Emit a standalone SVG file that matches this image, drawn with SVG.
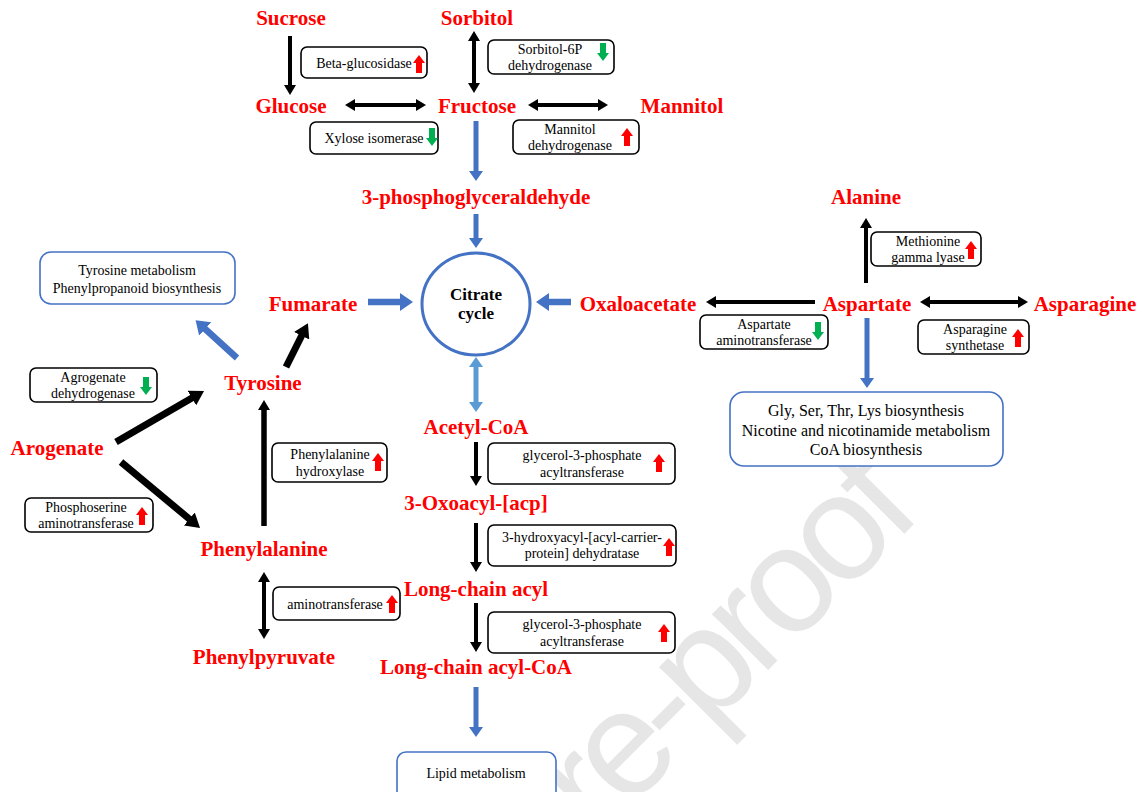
<svg xmlns="http://www.w3.org/2000/svg" width="1143" height="792" viewBox="0 0 1143 792">
<style>
.lbl{font-family:"Liberation Serif","Times New Roman",serif;font-weight:bold;font-size:21px;fill:#ff0000;text-anchor:middle}
.enz{font-family:"Liberation Serif","Times New Roman",serif;font-size:14px;fill:#000;text-anchor:middle}
.pw{font-family:"Liberation Serif","Times New Roman",serif;font-size:14px;fill:#000;text-anchor:middle}
.pw16{font-family:"Liberation Serif","Times New Roman",serif;font-size:16px;fill:#000;text-anchor:middle}
.cc{font-family:"Liberation Serif","Times New Roman",serif;font-weight:bold;font-size:17px;fill:#000;text-anchor:middle}
.ebox{fill:#fff;stroke:#000;stroke-width:1.6}
.pbox{fill:#fff;stroke:#4472c4;stroke-width:1.6}
.ka{stroke:#000;stroke-width:4;fill:none;marker-end:url(#hk)}
.kd{stroke:#000;stroke-width:4;fill:none;marker-end:url(#hk);marker-start:url(#hk)}
.kb{stroke:#000;stroke-width:7;fill:none;marker-end:url(#hkb)}
.ba{stroke:#4472c4;stroke-width:5;fill:none;marker-end:url(#hb)}
.bb{stroke:#4472c4;stroke-width:6.5;fill:none;marker-end:url(#hbb)}
.wm{font-family:"Liberation Sans",Arial,sans-serif;font-size:150px;letter-spacing:-9px;fill:#e6e6e6}
</style>
<defs>
<marker id="hk" viewBox="0 0 10 12" refX="2" refY="6" markerWidth="10" markerHeight="12" markerUnits="userSpaceOnUse" orient="auto-start-reverse"><path d="M0,0L10,6L0,12z" fill="#000"/></marker>
<marker id="hkb" viewBox="0 0 14 17" refX="3" refY="8.5" markerWidth="14" markerHeight="17" markerUnits="userSpaceOnUse" orient="auto-start-reverse"><path d="M0,0L14,8.5L0,17z" fill="#000"/></marker>
<marker id="hb" viewBox="0 0 10 14" refX="2" refY="7" markerWidth="10" markerHeight="14" markerUnits="userSpaceOnUse" orient="auto-start-reverse"><path d="M0,0L10,7L0,14z" fill="#4472c4"/></marker>
<marker id="hbb" viewBox="0 0 13 18" refX="3" refY="9" markerWidth="13" markerHeight="18" markerUnits="userSpaceOnUse" orient="auto-start-reverse"><path d="M0,0L13,9L0,18z" fill="#4472c4"/></marker>
<marker id="hl" viewBox="0 0 10 14" refX="2" refY="7" markerWidth="10" markerHeight="14" markerUnits="userSpaceOnUse" orient="auto-start-reverse"><path d="M0,0L10,7L0,14z" fill="#5b9bd5"/></marker>
<path id="up" d="M0,-9L6,-1L3,-1L3,9L-3,9L-3,-1L-6,-1Z" fill="#ff0000"/>
<path id="dn" d="M0,9L6,1L3,1L3,-9L-3,-9L-3,1L-6,1Z" fill="#00b050"/>
</defs>
<rect width="1143" height="792" fill="#fff"/>
<text class="wm" transform="translate(918,520) rotate(-45)" text-anchor="end">Pre-proof</text>

<g id="connectors">
<line class="ka" x1="290" y1="36" x2="290" y2="87"/>
<line class="kd" x1="474" y1="39" x2="474" y2="85"/>
<line class="kd" x1="353" y1="105" x2="418" y2="105"/>
<line class="kd" x1="536" y1="105" x2="600" y2="105"/>
<line class="ba" x1="476" y1="121" x2="476" y2="173"/>
<line class="ba" x1="476" y1="214" x2="476" y2="240"/>
<line class="bb" x1="368" y1="302" x2="403" y2="302"/>
<line class="bb" x1="571" y1="302" x2="546" y2="302"/>
<line stroke="#5b9bd5" stroke-width="5" marker-start="url(#hl)" marker-end="url(#hl)" x1="476" y1="365" x2="476" y2="404"/>
<line class="ka" x1="476" y1="442" x2="476" y2="478"/>
<line class="ka" x1="476" y1="523" x2="476" y2="564"/>
<line class="ka" x1="476" y1="603" x2="476" y2="644"/>
<line class="ba" x1="476" y1="687" x2="476" y2="729"/>
<line class="ka" x1="866" y1="283" x2="866" y2="226"/>
<line class="ka" x1="815" y1="302" x2="714" y2="302"/>
<line class="kd" x1="928" y1="302" x2="1020" y2="302"/>
<line class="ba" x1="867" y1="318" x2="867" y2="380"/>
<line class="bb" x1="237" y1="358" x2="203" y2="327"/>
<line class="kb" x1="286" y1="367" x2="303" y2="333"/>
<line class="kb" x1="116" y1="442" x2="194.5" y2="396.5"/>
<line class="kb" x1="121" y1="462" x2="191.6" y2="520.9"/>
<line stroke="#000" stroke-width="5.5" marker-end="url(#hk)" x1="264" y1="526" x2="264" y2="408"/>
<line class="kd" x1="264" y1="580" x2="264" y2="631"/>
</g>

<g id="citrate-cycle">
<ellipse cx="476" cy="304" rx="54" ry="51" fill="#fff" stroke="#4472c4" stroke-width="3"/>
<text class="cc" x="476" y="300">Citrate</text>
<text class="cc" x="476" y="319">cycle</text>
</g>

<g id="metabolites">
<text id="sucrose" class="lbl" x="291" y="25">Sucrose</text>
<text id="sorbitol" class="lbl" x="477" y="25">Sorbitol</text>
<text id="glucose" class="lbl" x="291" y="113">Glucose</text>
<text id="fructose" class="lbl" x="477" y="113">Fructose</text>
<text id="mannitol" class="lbl" x="682" y="113">Mannitol</text>
<text id="pga" class="lbl" x="476" y="204">3-phosphoglyceraldehyde</text>
<text id="alanine" class="lbl" x="866" y="204">Alanine</text>
<text id="fumarate" class="lbl" x="313" y="311">Fumarate</text>
<text id="oxaloacetate" class="lbl" x="638" y="311">Oxaloacetate</text>
<text id="aspartate" class="lbl" x="867" y="311">Aspartate</text>
<text id="asparagine" class="lbl" x="1085" y="311">Asparagine</text>
<text id="tyrosine" class="lbl" x="263" y="390">Tyrosine</text>
<text id="arogenate" class="lbl" x="57" y="455">Arogenate</text>
<text id="acetylcoa" class="lbl" x="476" y="434">Acetyl-CoA</text>
<text id="oxoacyl" class="lbl" x="476" y="510">3-Oxoacyl-[acp]</text>
<text id="phenylalanine" class="lbl" x="264" y="556">Phenylalanine</text>
<text id="lcacyl" class="lbl" x="476" y="596">Long-chain acyl</text>
<text id="phenylpyruvate" class="lbl" x="264" y="664">Phenylpyruvate</text>
<text id="lcacylcoa" class="lbl" x="476" y="674">Long-chain acyl-CoA</text>
</g>

<g id="enz-beta">
<rect class="ebox" x="301" y="47" width="126" height="31" rx="6"/>
<text class="enz" x="364" y="68">Beta-glucosidase</text>
<use href="#up" x="419" y="64"/>
</g>
<g id="enz-sorbitol">
<rect class="ebox" x="488" y="40" width="126" height="34" rx="6"/>
<text class="enz" x="550" y="54">Sorbitol-6P</text>
<text class="enz" x="550" y="70">dehydrogenase</text>
<use href="#dn" x="603" y="52"/>
</g>
<g id="enz-xylose">
<rect class="ebox" x="310" y="122" width="128" height="32" rx="6"/>
<text class="enz" x="374" y="143">Xylose isomerase</text>
<use href="#dn" x="432" y="137"/>
</g>
<g id="enz-mannitol">
<rect class="ebox" x="513" y="120" width="126" height="34" rx="6"/>
<text class="enz" x="570" y="134">Mannitol</text>
<text class="enz" x="570" y="150">dehydrogenase</text>
<use href="#up" x="627" y="137"/>
</g>
<g id="enz-methionine">
<rect class="ebox" x="871" y="232" width="110" height="34" rx="6"/>
<text class="enz" x="928" y="246">Methionine</text>
<text class="enz" x="928" y="262">gamma lyase</text>
<use href="#up" x="971" y="250"/>
</g>
<g id="enz-aspat">
<rect class="ebox" x="700" y="315" width="128" height="34" rx="6"/>
<text class="enz" x="764" y="329">Aspartate</text>
<text class="enz" x="764" y="345">aminotransferase</text>
<use href="#dn" x="818" y="331"/>
</g>
<g id="enz-asns">
<rect class="ebox" x="918" y="320" width="111" height="34" rx="6"/>
<text class="enz" x="975" y="334">Asparagine</text>
<text class="enz" x="975" y="350">synthetase</text>
<use href="#up" x="1018" y="338"/>
</g>
<g id="enz-agrogenate">
<rect class="ebox" x="30" y="368" width="127" height="34" rx="6"/>
<text class="enz" x="93" y="382">Agrogenate</text>
<text class="enz" x="93" y="398">dehydrogenase</text>
<use href="#dn" x="146" y="386"/>
</g>
<g id="enz-phosphoserine">
<rect class="ebox" x="25" y="498" width="128" height="34" rx="6"/>
<text class="enz" x="86" y="512">Phosphoserine</text>
<text class="enz" x="86" y="528">aminotransferase</text>
<use href="#up" x="142" y="516"/>
</g>
<g id="enz-phehydrox">
<rect class="ebox" x="272" y="443" width="115" height="39" rx="6"/>
<text class="enz" x="330" y="459">Phenylalanine</text>
<text class="enz" x="330" y="476">hydroxylase</text>
<use href="#up" x="378" y="462"/>
</g>
<g id="enz-aminotransferase">
<rect class="ebox" x="273" y="587" width="127" height="33" rx="6"/>
<text class="enz" x="335" y="609">aminotransferase</text>
<use href="#up" x="392" y="604"/>
</g>
<g id="enz-gpat1">
<rect class="ebox" x="488" y="443" width="187" height="41" rx="6"/>
<text class="enz" x="582" y="460">glycerol-3-phosphate</text>
<text class="enz" x="582" y="477">acyltransferase</text>
<use href="#up" x="659" y="463"/>
</g>
<g id="enz-dehydratase">
<rect class="ebox" x="488" y="525" width="188" height="41" rx="6"/>
<text class="enz" x="582" y="542">3-hydroxyacyl-[acyl-carrier-</text>
<text class="enz" x="582" y="558">protein] dehydratase</text>
<use href="#up" x="669" y="547"/>
</g>
<g id="enz-gpat2">
<rect class="ebox" x="488" y="612" width="187" height="41" rx="6"/>
<text class="enz" x="582" y="629">glycerol-3-phosphate</text>
<text class="enz" x="582" y="646">acyltransferase</text>
<use href="#up" x="664" y="633"/>
</g>

<g id="pw-tyrosine">
<rect class="pbox" x="40" y="252" width="195" height="52" rx="11"/>
<text class="pw" x="137" y="275">Tyrosine metabolism</text>
<text class="pw" x="137" y="293">Phenylpropanoid biosynthesis</text>
</g>
<g id="pw-aminoacids">
<rect class="pbox" x="730" y="392" width="273" height="74" rx="14"/>
<text class="pw16" x="866" y="416">Gly, Ser, Thr, Lys biosynthesis</text>
<text class="pw16" x="866" y="436">Nicotine and nicotinamide metabolism</text>
<text class="pw16" x="866" y="455">CoA biosynthesis</text>
</g>
<g id="pw-lipid">
<rect class="pbox" x="397" y="752" width="159" height="50" rx="9"/>
<text class="pw" x="476" y="778">Lipid metabolism</text>
</g>
</svg>
